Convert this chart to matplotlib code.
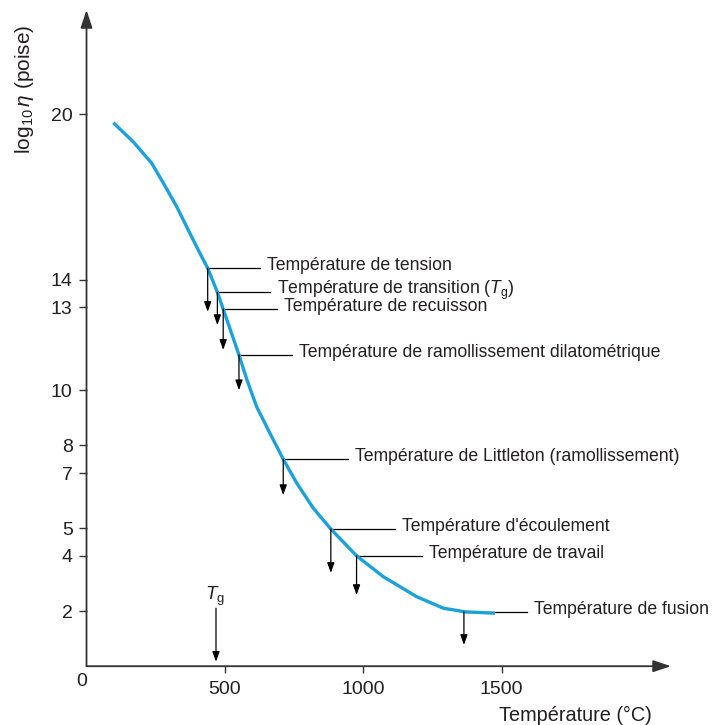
import matplotlib
matplotlib.use("Agg")
import matplotlib.pyplot as plt

# viscosity curve of a glass
curve_temp = [97, 169, 236, 278, 326, 374, 410, 438, 473, 494, 551, 580, 615,
              663, 711, 760, 820, 883, 976, 1073, 1193, 1290, 1368, 1476]
curve_logeta = [19.69, 19.00, 18.22, 17.50, 16.65, 15.68, 14.96, 14.42, 13.55,
                12.94, 11.28, 10.37, 9.40, 8.44, 7.50, 6.63, 5.72, 4.97, 4.00,
                3.24, 2.52, 2.10, 1.97, 1.92]

# characteristic points
point_names = [
    "Température de tension",
    r"Température de transition ($T_{\mathrm{g}}$)",
    "Température de recuisson",
    "Température de ramollissement dilatométrique",
    "Température de Littleton (ramollissement)",
    "Température d'écoulement",
    "Température de travail",
    "Température de fusion",
]
point_temp = [438, 473, 494, 551, 711, 883, 976, 1364]
point_logeta = [14.42, 13.55, 12.94, 11.28, 7.50, 4.97, 4.00, 1.97]

# layout of the leaders (where the arrow stops, where the line stops)
arrow_stop = [12.84, 12.36, 11.46, 10.0, 6.2, 3.38, 2.58, 0.77]
leader_stop = [627, 663, 690, 742, 945, 1115, 1211, 1591]

x_ticks = [500, 1000, 1500]
y_ticks = [2, 4, 5, 7, 8, 10, 13, 14, 20]
tg_temp = 468

plt.rcParams["font.family"] = ["Liberation Sans", "DejaVu Sans"]
plt.rcParams["mathtext.fontset"] = "custom"
plt.rcParams["mathtext.rm"] = "Liberation Sans"
plt.rcParams["mathtext.it"] = "Liberation Sans:italic"
plt.rcParams["mathtext.default"] = "it"

TXT = "#231f20"
AX = "#333333"
BLUE = "#1ba1dc"

fig = plt.figure(figsize=(7.22, 7.25), dpi=100)
x0, y0 = 86.5, 666.2
x1, y1 = 671, 10
ax = fig.add_axes([x0 / 722, (725 - y0) / 725, (x1 - x0) / 722, (y0 - y1) / 725])
xmax = (x1 - x0) / 0.2767
ymax = (y0 - y1) / 27.6
ax.set_xlim(0, xmax)
ax.set_ylim(0, ymax)
for s in ax.spines.values():
    s.set_visible(False)

# axes drawn as arrows
axis_arrow = dict(arrowstyle="-|>,head_length=0.6,head_width=0.2", mutation_scale=18,
                  color=AX, lw=1.3, shrinkA=0, shrinkB=0)
ax.annotate("", xy=(xmax, 0), xytext=(0, 0), arrowprops=axis_arrow, annotation_clip=False)
ax.annotate("", xy=(0, ymax), xytext=(0, 0), arrowprops=axis_arrow, annotation_clip=False)

ax.set_xticks(x_ticks)
ax.set_yticks(y_ticks)
ax.tick_params(axis="both", direction="out", length=6, width=1.0, color=AX,
               labelsize=14, labelcolor=TXT, pad=4)
ax.tick_params(axis="x", length=5, pad=6)
ax.text(-16, -0.56, "0", ha="center", va="center", fontsize=14, color=TXT, clip_on=False)

ax.plot(curve_temp, curve_logeta, color=BLUE, lw=2.4, solid_capstyle="butt",
        solid_joinstyle="round", zorder=3)

small_arrow = dict(arrowstyle="-|>,head_length=0.5,head_width=0.18", mutation_scale=12,
                   color="black", lw=0.9, shrinkA=0, shrinkB=0)
for name, t, v, a, l in zip(point_names, point_temp, point_logeta, arrow_stop, leader_stop):
    ax.plot([t, l], [v, v], color="black", lw=0.9, zorder=2)
    ax.annotate("", xy=(t, a), xytext=(t, v), arrowprops=small_arrow)
    ax.text(l + 25, v - 0.08, name, ha="left", va="baseline", fontsize=12.7, color=TXT)

# T_g marker on the temperature axis
ax.annotate("", xy=(tg_temp, 0.16), xytext=(tg_temp, 2.1), arrowprops=small_arrow)
ax.text(tg_temp - 5, 2.4, r"$T_{\mathrm{g}}$", ha="center", va="baseline", fontsize=13.5, color=TXT)

ax.text((652 - x0) / 0.2767, -1.77, "Température (°C)", ha="right", va="center",
        fontsize=14.3, color=TXT, clip_on=False)
ax.text((24 - x0) / 0.2767, 20.9, r"log$_{10}\,\eta$ (poise)", rotation=90,
        ha="center", va="center", fontsize=15, color=TXT, clip_on=False)

fig.savefig("out.png", dpi=100)
